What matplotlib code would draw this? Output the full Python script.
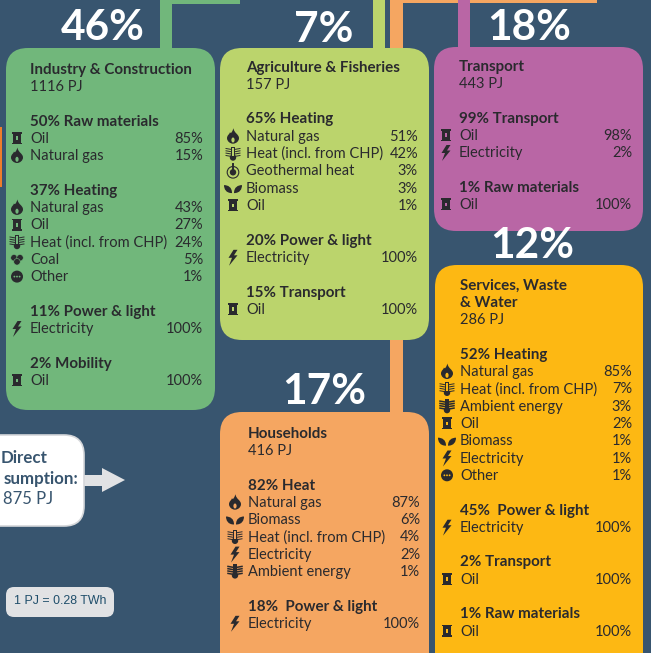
import matplotlib
matplotlib.use("Agg")
from matplotlib import pyplot as plt
from matplotlib.patches import FancyBboxPatch, Rectangle, Polygon, Circle, Ellipse, PathPatch
from matplotlib.path import Path

plt.rcParams['font.family'] = ['Lato', 'DejaVu Sans']

# panel data: heads, row names, row shares
industry_title = ["Industry & Construction"]
industry_total = "1116 PJ"
industry_heads = ["50% Raw materials", "37% Heating", "11% Power & light", "2% Mobility"]
industry_names = [["Oil", "Natural gas"],
                  ["Natural gas", "Oil", "Heat (incl. from CHP)", "Coal", "Other"],
                  ["Electricity"],
                  ["Oil"]]
industry_vals = [[85, 15], [43, 27, 24, 5, 1], [100], [100]]

agri_title = ["Agriculture & Fisheries"]
agri_total = "157 PJ"
agri_heads = ["65% Heating", "20% Power & light", "15% Transport"]
agri_names = [["Natural gas", "Heat (incl. from CHP)", "Geothermal heat", "Biomass", "Oil"],
              ["Electricity"],
              ["Oil"]]
agri_vals = [[51, 42, 3, 3, 1], [100], [100]]

transport_title = ["Transport"]
transport_total = "443 PJ"
transport_heads = ["99% Transport", "1% Raw materials"]
transport_names = [["Oil", "Electricity"], ["Oil"]]
transport_vals = [[98, 2], [100]]

services_title = ["Services, Waste", "& Water"]
services_total = "286 PJ"
services_heads = ["52% Heating", "45%  Power & light", "2% Transport", "1% Raw materials"]
services_names = [["Natural gas", "Heat (incl. from CHP)", "Ambient energy", "Oil", "Biomass", "Electricity", "Other"],
                  ["Electricity"],
                  ["Oil"],
                  ["Oil"]]
services_vals = [[85, 7, 3, 2, 1, 1, 1], [100], [100], [100]]

house_title = ["Households"]
house_total = "416 PJ"
house_heads = ["82% Heat", "18%  Power & light"]
house_names = [["Natural gas", "Biomass", "Heat (incl. from CHP)", "Electricity", "Ambient energy"],
               ["Electricity"]]
house_vals = [[87, 6, 4, 2, 1], [100]]

BG = "#38556f"
INK = "#2a2a2e"
GREEN = "#71b77b"
LIME = "#bbd46c"
PURPLE = "#b966a5"
YELLOW = "#fdb813"
ORANGE = "#f5a661"
PITCH = 17.3
REG = 10.5
BOLD = 10.9

fig = plt.figure(figsize=(6.51, 6.53), dpi=100, facecolor=BG)
ax = fig.add_axes([0, 0, 1, 1])
ax.set_xlim(0, 651)
ax.set_ylim(653, 0)
ax.axis("off")


def box(x0, y0, x1, y1, color, r=22, ec="none", lw=0, z=2):
    ax.add_patch(FancyBboxPatch((x0 + r, y0 + r), x1 - x0 - 2 * r, y1 - y0 - 2 * r,
                                boxstyle="round,pad=%d,rounding_size=%d" % (r, r),
                                fc=color, ec=ec, lw=lw, zorder=z))


def bar(x0, y0, x1, y1, color, z=1):
    ax.add_patch(Rectangle((x0, y0), x1 - x0, y1 - y0, fc=color, ec="none", zorder=z))


# little icons, drawn around (x, y), bg is the panel colour
def icon_oil(x, y, bg):
    bar(x - 4.2, y - 5, x + 4.2, y + 5.5, INK, 4)
    bar(x - 5, y - 6, x + 5, y - 4.5, INK, 4)
    bar(x - 5, y + 4.5, x + 5, y + 6, INK, 4)
    bar(x - 1.4, y - 1.8, x + 1.4, y + 1.8, bg, 5)


def icon_gas(x, y, bg):
    verts = [(0.5, -8), (1, -3), (6, -2), (6, 2), (6, 5), (3, 7.5), (0, 7.5), (-3, 7.5), (-6, 5), (-6, 2),
             (-6, -1), (-3.5, -2), (-3, -4), (-2, -2), (-1, -4), (0.5, -8)]
    codes = [Path.MOVETO] + [Path.CURVE4] * 15
    ax.add_patch(PathPatch(Path([(x + a, y + b) for a, b in verts], codes), fc=INK, ec="none", zorder=4))
    ax.add_patch(Ellipse((x, y + 3.8), 3.2, 5, fc=bg, ec="none", zorder=5))


def icon_heat(x, y, bg, heavy=False):
    lw = 1.1 if heavy else 0.7
    bar(x - 2, y - 7, x + 2, y + 3, INK, 4)
    if not heavy:
        bar(x - 1, y - 6, x + 1, y + 2, bg, 5)
    ax.add_patch(Circle((x, y + 4), 3.2, fc=INK, ec="none", zorder=4))
    for d in (-5, -2.7, -0.4, 2):
        ax.plot([x - 7, x - 2.5], [y + d, y + d + 0.8], color=INK, lw=lw, zorder=4)
        ax.plot([x + 2.5, x + 7], [y + d + 0.8, y + d], color=INK, lw=lw, zorder=4)


def icon_ambient(x, y, bg):
    icon_heat(x, y, bg, heavy=True)


def icon_coal(x, y, bg):
    for dx, dy, w in [(-3, -1.5, 6.5), (3, -1.5, 6.5), (0, 2.5, 6.5)]:
        ax.add_patch(Ellipse((x + dx, y + dy), w, w, fc=INK, ec=bg, lw=0.4, zorder=4))


def icon_other(x, y, bg):
    ax.add_patch(Circle((x, y), 6, fc=INK, ec="none", zorder=4))
    for d in (-2.6, 0, 2.6):
        ax.add_patch(Circle((x + d, y), 0.9, fc=bg, ec="none", zorder=5))


def icon_bio(x, y, bg):
    left = [(-1, 5), (-7, 5), (-9, 1), (-9, -3), (-5, -3), (-1, -1), (-1, 5)]
    right = [(1, 5), (7, 5), (9, 1), (9, -3), (5, -3), (1, -1), (1, 5)]
    codes = [Path.MOVETO] + [Path.CURVE4] * 6
    for leaf in (left, right):
        ax.add_patch(PathPatch(Path([(x + a, y + b) for a, b in leaf], codes), fc=INK, ec="none", zorder=4))


def icon_elec(x, y, bg):
    pts = [(0.5, -7.5), (-4.5, 0.5), (-1, 0.5), (-4, 8.5), (4.5, -2), (1, -2), (4.5, -7.5)]
    ax.add_patch(Polygon([(x + a, y + b) for a, b in pts], fc=INK, ec="none", zorder=4))


def icon_geo(x, y, bg):
    ax.add_patch(Circle((x, y + 1.5), 5.8, fc="none", ec=INK, lw=0.8, zorder=4))
    ax.add_patch(Circle((x, y + 1.5), 3.2, fc=INK, ec="none", zorder=4))
    ax.plot([x, x], [y - 6.5, y], color=INK, lw=1.4, zorder=4)


ICONS = {"Oil": icon_oil, "Natural gas": icon_gas, "Heat (incl. from CHP)": icon_heat,
         "Ambient energy": icon_ambient, "Coal": icon_coal, "Other": icon_other,
         "Biomass": icon_bio, "Electricity": icon_elec, "Geothermal heat": icon_geo}


def label(x, y, s, size=REG, weight="normal", ha="left", color=INK):
    ax.text(x, y + 4.6, s, fontsize=size, fontweight=weight, color=color, ha=ha, va="baseline", zorder=6)


def panel(xt, xr, y, bg, title, total, heads, names, vals):
    for t in title:
        label(xt, y, t, BOLD, "bold")
        y += PITCH
    label(xt, y, total)
    y += 2 * PITCH
    for head, nn, vv in zip(heads, names, vals):
        label(xt, y, head, BOLD, "bold")
        y += PITCH
        for n, v in zip(nn, vv):
            ICONS[n](xt - 13, y, bg)
            label(xt, y, n)
            label(xr, y, "%d%%" % v, ha="right")
            y += PITCH
        y += PITCH


# connectors
bar(160, 0, 172, 50, GREEN)
bar(160, 0, 240, 4, GREEN)
bar(373, 0, 385, 50, LIME)
bar(390, 0, 403, 415, ORANGE)
bar(390, 0, 597, 3, ORANGE)
bar(458, 0, 470, 50, PURPLE)
bar(0, 127, 2, 187, "#ee7d2b")

# panels
box(6, 48, 215, 410, GREEN)
box(220, 48, 429, 340, LIME)
box(434, 47, 643, 231, PURPLE)
box(435, 265, 643, 680, YELLOW)
box(220, 412, 429, 680, ORANGE)

panel(30, 203, 69, GREEN, industry_title, industry_total, industry_heads, industry_names, industry_vals)
panel(246, 418, 67, LIME, agri_title, agri_total, agri_heads, agri_names, agri_vals)
panel(459, 632, 66, PURPLE, transport_title, transport_total, transport_heads, transport_names, transport_vals)
panel(460, 632, 285, YELLOW, services_title, services_total, services_heads, services_names, services_vals)
panel(248, 420, 433, ORANGE, house_title, house_total, house_heads, house_names, house_vals)

# big shares
for x, y, s in [(103, 28.5, "46%"), (323.5, 30.5, "7%"), (529.5, 28.5, "18%"), (532.5, 246.5, "12%"), (324.5, 392.5, "17%")]:
    ax.text(x, y, s, fontsize=30.5, fontweight="bold", color="white", ha="center", va="center", zorder=6)

# direct consumption box
box(-20, 435, 84, 526, "white", r=20, ec="#d5d7da", lw=1.2, z=3)
ax.text(48, 463, "Direct", fontsize=12.2, fontweight="bold", color=BG, ha="right", va="baseline", zorder=6)
ax.text(78, 484, "sumption:", fontsize=12.2, fontweight="bold", color=BG, ha="right", va="baseline", zorder=6)
ax.text(3, 504, "875 PJ", fontsize=12, color=BG, ha="left", va="baseline", zorder=6)
ax.add_patch(Polygon([(84, 475), (102, 475), (102, 468), (125, 480), (102, 492), (102, 486), (84, 486)],
                     fc="#e1e2e4", ec="none", zorder=2))

# unit note
box(6, 587, 114, 617, "#e1e2e4", r=8, z=3)
ax.text(60, 601, "1 PJ = 0.28 TWh", fontsize=8.9, family="Liberation Sans", color="#1f4e6b", ha="center", va="center", zorder=6)

fig.savefig("out.png", dpi=100, facecolor=BG)
